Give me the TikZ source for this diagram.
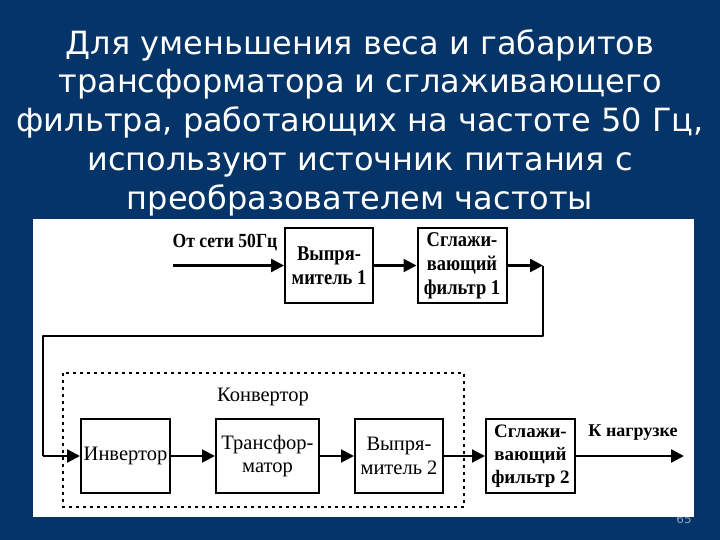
\documentclass[tikz,border=0pt]{standalone}
\usepackage{fontspec}
\setmainfont{Liberation Serif}
\newfontfamily\titrefont{DejaVu Sans}
\newfontfamily\serreefont[FakeStretch=0.88]{Liberation Serif}
\usetikzlibrary{arrows.meta}
\definecolor{fond}{RGB}{4,52,104}
\definecolor{numero}{RGB}{140,165,200}

\begin{document}
\begin{tikzpicture}[x=1pt, y=-1pt,
  bloc/.style={draw, line width=2pt, minimum height=74pt, align=center, inner sep=0pt,
    font=\fontsize{20.5}{23.5}\selectfont},
  gras/.style={font=\serreefont\bfseries\fontsize{21}{24}\selectfont},
  fleche/.style={line width=2.4pt, -{Triangle[length=13pt,width=13pt]}},
  trait/.style={line width=2.4pt}]
\useasboundingbox (0,0) rectangle (720,540);
\fill[fond] (0,0) rectangle (720,540);
\node[text=white, align=center, font=\titrefont\fontsize{32}{38.7}\selectfont] (titre) at (360,122.5)
  {Для уменьшения веса и габаритов\\трансформатора и сглаживающего\\фильтра, работающих на частоте 50 Гц,\\используют источник питания с\\преобразователем частоты};
\node[text=numero, font=\titrefont\fontsize{12}{12}\selectfont] (page) at (684,519) {65};
\fill[white] (33,219) rectangle (694,517);

% ligne du haut
\node[bloc, gras, minimum width=88pt] (redr1) at (329,265.5) {Выпря-\\митель 1};
\node[bloc, gras, minimum width=89pt] (filt1) at (462,265.5) {Сглажи-\\вающий\\фильтр 1};
\coordinate (entree) at (173,265.5);
\coordinate (sortie1) at (543,265.5);
\node[font=\serreefont\bfseries\fontsize{20}{20}\selectfont] (reseau) at (225,243) {От сети 50Гц};
\draw[fleche] (entree) -- (redr1);
\draw[fleche] (redr1) -- (filt1);
\draw[fleche] (filt1) -- (sortie1);

% convertisseur
\node[bloc, minimum width=89pt] (inv) at (125.5,456) {Инвертор};
\node[bloc, minimum width=103pt] (transfo) at (267.5,456) {Трансфор-\\матор};
\node[bloc, minimum width=88pt] (redr2) at (399,456) {Выпря-\\митель 2};
\node[bloc, minimum width=89pt, font=\bfseries\fontsize{19}{23}\selectfont] (filt2) at (530.5,456) {Сглажи-\\вающий\\фильтр 2};
\draw[line width=2pt, dash pattern=on 3pt off 4pt] (63,373) rectangle (464,507);
\node[font=\fontsize{20.5}{20.5}\selectfont] (conv) at (263,397) {Конвертор};
\coordinate (sortie2) at (684,456);
\coordinate (coude) at (43,456);
\node[font=\bfseries\fontsize{18}{18}\selectfont] (charge) at (633,433) {К нагрузке};

\draw[trait, line join=round] (sortie1) -- (543,336) -| (coude);
\draw[fleche] (coude) -- (inv);
\draw[fleche, line width=2pt] (inv) -- (transfo);
\draw[fleche, line width=2pt] (transfo) -- (redr2);
\draw[fleche, line width=2pt] (redr2) -- (filt2);
\draw[fleche] (filt2) -- (sortie2);
\end{tikzpicture}
\end{document}
